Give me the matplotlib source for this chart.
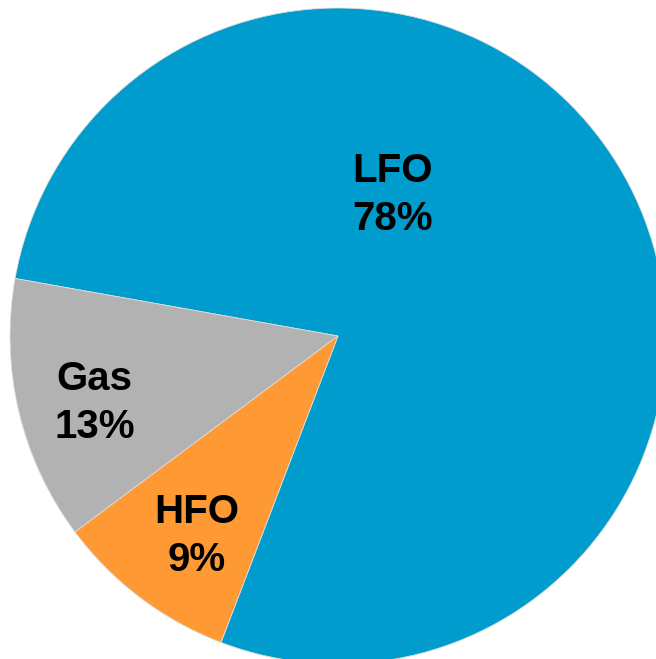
import numpy as np
import matplotlib
matplotlib.use("Agg")
import matplotlib.pyplot as plt

labels = ["LFO", "Gas", "HFO"]
shares = [78, 13, 9]
colors = ["#009CCD", "#B2B2B2", "#FF9933"]

# label anchor points, as fractions of the radius and angle (deg)
label_pos = {"LFO": (0.46, 69.0), "Gas": (0.77, 195.4), "HFO": (0.746, 234.8)}

fig = plt.figure(figsize=(6.56, 6.59), dpi=100)
ax = fig.add_axes([0, 0, 1, 1])
ax.pie(shares, colors=colors, startangle=249.1, counterclock=True,
       radius=1.0, center=(0, 0), wedgeprops=dict(linewidth=0.6, edgecolor="#dddddd"))

for lab, val in zip(labels, shares):
    r, ang = label_pos[lab]
    x = r * np.cos(np.radians(ang))
    y = r * np.sin(np.radians(ang))
    ax.text(x, y, f"{lab}\n{val}%", ha="center", va="center",
            fontsize=29, fontweight="bold", family="Liberation Sans",
            linespacing=1.32, color="black")

R = 328.0
ax.set_xlim(-338 / R, (656 - 338) / R)
ax.set_ylim(-(659 - 336) / R, 336 / R)
ax.set_aspect("equal")
ax.axis("off")

fig.savefig("out.png", dpi=100)
